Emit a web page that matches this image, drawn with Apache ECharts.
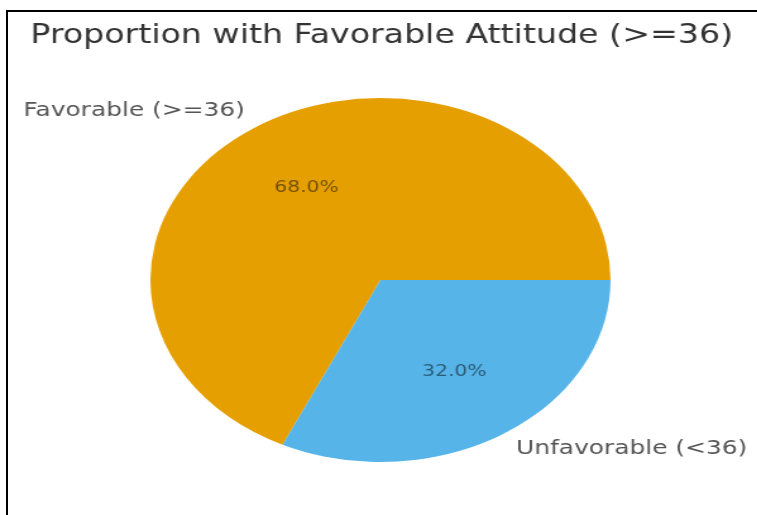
<!DOCTYPE html>
<html>
<head>
<meta charset="utf-8">
<script src="https://cdn.jsdelivr.net/npm/echarts@6/dist/echarts.min.js"></script>
<style>
html,body{margin:0;padding:0;background:#fff;overflow:hidden;width:757px;height:515px;}
#frame{position:absolute;left:6px;top:10px;width:900px;height:700px;border-left:2px solid #000;border-top:2px solid #000;box-sizing:border-box;}
#chart{position:absolute;left:0;top:0;width:604px;height:515px;transform:scaleX(1.264);transform-origin:0 0;}
</style>
</head>
<body>
<div id="chart"></div>
<div id="frame"></div>
<script>
const titleText = 'Proportion with Favorable Attitude (>=36)';
const categories = ['Favorable (>=36)', 'Unfavorable (<36)'];
const values = [68, 32];
const colors = ['#E69F00', '#56B4E9'];

const seriesData = categories.map((c, i) => ({ name: c, value: values[i], itemStyle: { color: colors[i] } }));
const chart = echarts.init(document.getElementById('chart'), null, { renderer: 'canvas' });
const font = 'DejaVu Sans';
chart.setOption({
  animation: false,
  title: {
    text: titleText,
    left: 'center',
    top: 23,
    padding: 0,
    textStyle: { fontFamily: font, fontSize: 26.3, fontWeight: 'normal', color: '#333333' }
  },
  series: [
    {
      type: 'pie',
      center: [301, 280],
      radius: 182,
      startAngle: 0,
      clockwise: false,
      avoidLabelOverlap: false,
      silent: true,
      emphasis: { disabled: true },
      itemStyle: { borderWidth: 0 },
      label: {
        show: true,
        position: 'outside',
        distanceToLabelLine: 0,
        fontFamily: font,
        fontSize: 19.7,
        color: '#555555',
        formatter: '{b}'
      },
      labelLine: { show: false, length: 18.2, length2: 0 },
      data: seriesData
    },
    {
      type: 'pie',
      center: [301, 280],
      radius: 212.4,
      startAngle: 0,
      clockwise: false,
      avoidLabelOverlap: false,
      silent: true,
      z: 3,
      emphasis: { disabled: true },
      itemStyle: { color: 'rgba(0,0,0,0)', borderWidth: 0 },
      label: {
        show: true,
        position: 'inside',
        fontFamily: font,
        fontSize: 16,
        color: 'rgba(0,0,0,0.5)',
        formatter: p => p.percent.toFixed(1) + '%'
      },
      labelLine: { show: false },
      data: categories.map((c, i) => ({ name: c, value: values[i], itemStyle: { color: 'rgba(0,0,0,0)' } }))
    }
  ]
});
</script>
</body>
</html>
